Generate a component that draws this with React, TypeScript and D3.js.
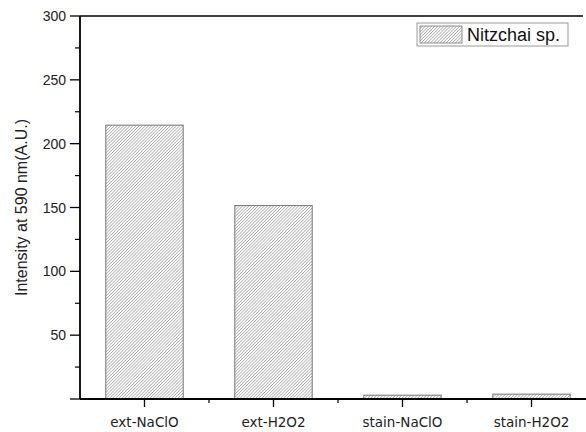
import React from "react";
import * as d3 from "d3";

const categories = ["ext-NaClO", "ext-H2O2", "stain-NaClO", "stain-H2O2"];
const intensities = [214.5, 151.5, 3, 3.8];
const yMajorTicks = [50, 100, 150, 200, 250, 300];
const yMinorTicks = [25, 75, 125, 175, 225, 275];
const seriesName = "Nitzchai sp.";

const W = 586;
const H = 432;
const margin = { left: 80, top: 16, bottom: 33 };

export default function App() {
  const x = d3
    .scaleBand<string>()
    .domain(categories)
    .range([margin.left, margin.left + 4 * 129])
    .paddingInner(0.4)
    .paddingOuter(0.2);
  const y = d3.scaleLinear().domain([0, 300]).range([H - margin.bottom, margin.top]);
  const x0 = margin.left;
  const y0 = y(0);
  const step = x.step();
  const bandEdges = categories.map((_, i) => margin.left + (i + 1) * step);

  return (
    <svg
      width={W}
      height={H}
      style={{ position: "absolute", left: 0, top: 0, background: "#fff" }}
      fontFamily="Arial, 'Liberation Sans', sans-serif"
    >
      <defs>
        <pattern id="hatch" patternUnits="userSpaceOnUse" width={2.2} height={2.2} patternTransform="rotate(45)">
          <rect width={2.2} height={2.2} fill="#fff" />
          <line x1={0} y1={0} x2={0} y2={2.2} stroke="#707070" strokeWidth={0.9} />
        </pattern>
      </defs>

      {categories.map((c, i) => (
        <rect
          key={c}
          x={x(c)}
          y={y(intensities[i])}
          width={x.bandwidth()}
          height={y0 - y(intensities[i])}
          fill="url(#hatch)"
          stroke="#777"
          strokeWidth={1}
        />
      ))}

      {/* axes frame */}
      <line x1={x0} y1={margin.top} x2={583} y2={margin.top} stroke="#000" strokeWidth={1.5} />
      <line x1={x0} y1={margin.top} x2={x0} y2={y0} stroke="#000" strokeWidth={1.8} />
      <line x1={x0} y1={y0} x2={W} y2={y0} stroke="#000" strokeWidth={1.8} />

      {/* y ticks */}
      {[0, ...yMajorTicks].map((t) => (
        <g key={"M" + t}>
          <line x1={x0 - 10} x2={x0} y1={y(t)} y2={y(t)} stroke="#000" strokeWidth={1.3} />
          {t > 0 && (
            <text x={x0 - 14} y={y(t)} dy="0.36em" textAnchor="end" fontSize={14} fill="#222">
              {t}
            </text>
          )}
        </g>
      ))}
      {yMinorTicks.map((t) => (
        <line key={"m" + t} x1={x0 - 5} x2={x0} y1={y(t)} y2={y(t)} stroke="#000" strokeWidth={1.2} />
      ))}
      <text
        transform={`translate(27,${(margin.top + y0) / 2}) rotate(-90)`}
        textAnchor="middle"
        fontSize={16}
        fill="#222"
      >
        Intensity at 590 nm(A.U.)
      </text>

      {/* x ticks */}
      {categories.map((c) => (
        <g key={"xt" + c}>
          <line
            x1={x(c)! + x.bandwidth() / 2}
            x2={x(c)! + x.bandwidth() / 2}
            y1={y0}
            y2={y0 + 8}
            stroke="#000"
            strokeWidth={1.3}
          />
          <text
            x={x(c)! + x.bandwidth() / 2}
            y={y0 + 28}
            textAnchor="middle"
            fontSize={13.5}
            fontFamily="'DejaVu Sans', sans-serif"
            fill="#222"
          >
            {c}
          </text>
        </g>
      ))}
      {bandEdges.map((e, i) => (
        <line key={"be" + i} x1={e} x2={e} y1={y0} y2={y0 + 4} stroke="#000" strokeWidth={1.2} />
      ))}

      {/* legend */}
      <rect x={417} y={23} width={151} height={23} fill="#fff" stroke="#999" strokeWidth={1} />
      <rect x={420} y={26} width={42} height={17} fill="url(#hatch)" stroke="#777" strokeWidth={0.8} />
      <text x={467} y={40.5} fontSize={18} fill="#111">
        {seriesName}
      </text>
    </svg>
  );
}
